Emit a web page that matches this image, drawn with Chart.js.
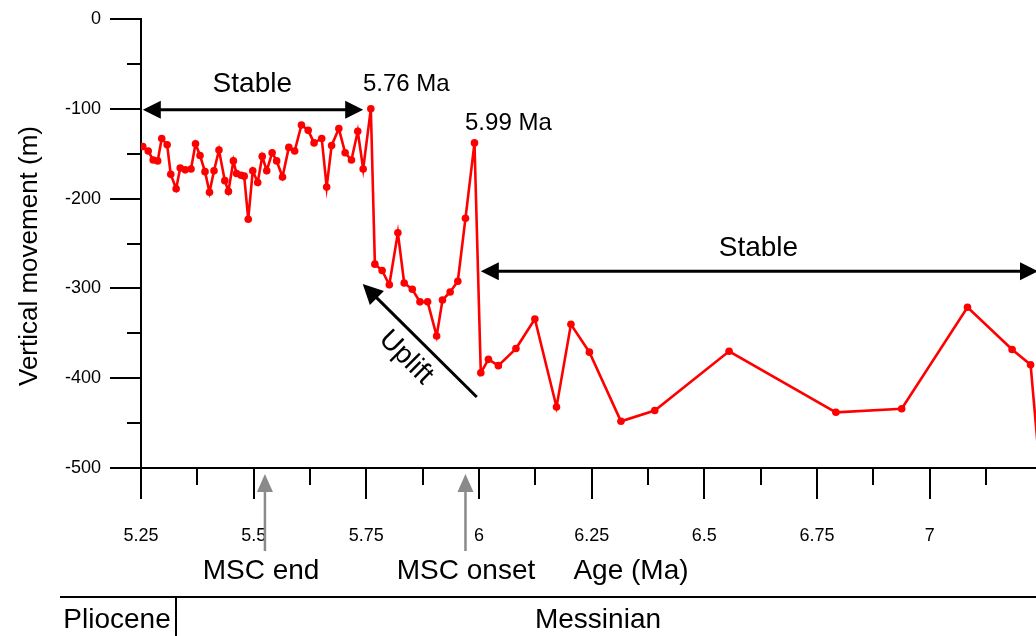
<!DOCTYPE html>
<html>
<head>
<meta charset="utf-8">
<script src="https://cdn.jsdelivr.net/npm/chart.js@4.4.0/dist/chart.umd.min.js"></script>
<style>
  html, body { margin: 0; padding: 0; background: #fff; }
  canvas { display: block; }
</style>
</head>
<body>
<canvas id="chart" width="1036" height="636"></canvas>
<script>
// Age (Ma) of each sample and the vertical movement (m) derived for it
const ages = [
  5.254, 5.266, 5.277, 5.287, 5.296, 5.308, 5.316, 5.328, 5.337, 5.348,
  5.361, 5.371, 5.381, 5.392, 5.402, 5.412, 5.423, 5.436, 5.444, 5.455,
  5.462, 5.472, 5.479, 5.488, 5.498, 5.509, 5.519, 5.529, 5.541, 5.551,
  5.564, 5.578, 5.591, 5.606, 5.621, 5.634, 5.651, 5.662, 5.673, 5.689,
  5.703, 5.717, 5.731, 5.743, 5.76, 5.769, 5.785, 5.801, 5.820, 5.834,
  5.852, 5.869, 5.886, 5.906, 5.919, 5.936, 5.953, 5.970, 5.99, 6.004,
  6.021, 6.043, 6.082, 6.124, 6.172, 6.204, 6.245, 6.315, 6.390, 6.555,
  6.792, 6.938, 7.084, 7.183, 7.224, 7.245
];
const movement = [
  -142, -147, -157, -158, -133, -140, -173, -189, -166, -168,
  -167, -139, -152, -170, -193, -169, -146, -180, -192, -158,
  -172, -174, -175, -223, -169, -182, -153, -169, -149, -158,
  -176, -143, -147, -118, -124, -138, -133, -187, -141, -122,
  -149, -157, -125, -167, -100, -273, -280, -296, -238, -294,
  -301, -315, -315, -353, -313, -304, -292, -222, -138, -394,
  -379, -386, -367, -334, -432, -340, -371, -448, -436, -370,
  -438, -434, -321, -368, -385, -505
];

const xTicks = [5.25, 5.5, 5.75, 6, 6.25, 6.5, 6.75, 7];
const yTicks = [0, -100, -200, -300, -400, -500];
const xMinorStep = 0.125;
const yMinorStep = 50;

const FONT = "'Liberation Sans', Arial, sans-serif";

function arrowHead(ctx, tipX, tipY, fromX, fromY, len, half) {
  const a = Math.atan2(tipY - fromY, tipX - fromX);
  ctx.beginPath();
  ctx.moveTo(tipX, tipY);
  ctx.lineTo(tipX - len * Math.cos(a) + half * Math.sin(a), tipY - len * Math.sin(a) - half * Math.cos(a));
  ctx.lineTo(tipX - len * Math.cos(a) - half * Math.sin(a), tipY - len * Math.sin(a) + half * Math.cos(a));
  ctx.closePath();
  ctx.fill();
}

function arrow(ctx, x1, y1, x2, y2, opts) {
  const { color = '#000', width = 3, len = 18, half = 9, both = false } = opts || {};
  const a = Math.atan2(y2 - y1, x2 - x1);
  ctx.save();
  ctx.strokeStyle = color;
  ctx.fillStyle = color;
  ctx.lineWidth = width;
  ctx.beginPath();
  ctx.moveTo(both ? x1 + (len - 2) * Math.cos(a) : x1, both ? y1 + (len - 2) * Math.sin(a) : y1);
  ctx.lineTo(x2 - (len - 2) * Math.cos(a), y2 - (len - 2) * Math.sin(a));
  ctx.stroke();
  arrowHead(ctx, x2, y2, x1, y1, len, half);
  if (both) arrowHead(ctx, x1, y1, x2, y2, len, half);
  ctx.restore();
}

function text(ctx, str, x, y, size, align, rot) {
  ctx.save();
  ctx.font = size + 'px ' + FONT;
  ctx.fillStyle = '#000';
  ctx.textAlign = align || 'center';
  ctx.textBaseline = 'middle';
  ctx.translate(x, y);
  if (rot) ctx.rotate(rot);
  ctx.fillText(str, 0, 0);
  ctx.restore();
}

// tick marks, arrows, labels and the stage bar under the axis
const annotations = {
  id: 'annotations',
  afterDraw(chart) {
    const ctx = chart.ctx;
    const xs = chart.scales.x;
    const ys = chart.scales.y;
    const area = chart.chartArea;
    const X = v => xs.getPixelForValue(v);
    const Y = v => ys.getPixelForValue(v);

    ctx.save();
    ctx.strokeStyle = '#000';
    ctx.lineWidth = 2;
    ctx.beginPath();
    for (let v = 0; v >= -500; v -= yMinorStep) {
      const major = v % 100 === 0;
      const py = Math.round(Y(v));
      ctx.moveTo(major ? area.left - 31 : area.left - 14, py);
      ctx.lineTo(area.left, py);
    }
    for (let v = xs.min; v <= xs.max + 1e-9; v += xMinorStep) {
      const major = xTicks.some(t => Math.abs(t - v) < 1e-6);
      const px = Math.round(X(v));
      ctx.moveTo(px, area.bottom);
      ctx.lineTo(px, area.bottom + (major ? 31 : 17));
    }
    ctx.stroke();
    ctx.restore();

    // stable interval before the 5.76 Ma jump
    arrow(ctx, X(5.254), Y(-101), X(5.743), Y(-101), { both: true, len: 18, half: 9 });
    text(ctx, 'Stable', X(5.497), Y(-73), 28);
    text(ctx, '5.76 Ma', X(5.7425), Y(-73), 24, 'left');
    text(ctx, '5.99 Ma', X(5.969), Y(-116), 24, 'left');

    // stable interval after 6 Ma
    arrow(ctx, X(6.004), Y(-281), xs.right + 2, Y(-281), { both: true, len: 18, half: 9 });
    text(ctx, 'Stable', X(6.62), Y(-255), 28);

    // uplift
    arrow(ctx, X(5.995), Y(-421), X(5.742), Y(-295), { len: 20, half: 10 });
    text(ctx, 'Uplift', X(5.838), Y(-377), 28, 'center', Math.PI / 4);

    // MSC markers below the axis
    arrow(ctx, X(5.525), 551, X(5.525), 474, { color: '#8a8a8a', width: 2.5, len: 18, half: 8 });
    arrow(ctx, X(5.97), 551, X(5.97), 474, { color: '#8a8a8a', width: 2.5, len: 18, half: 8 });
    text(ctx, 'MSC end', 261, 571, 28);
    text(ctx, 'MSC onset', 466, 571, 28);
    text(ctx, 'Age (Ma)', 631, 571, 28);

    // stage bar
    ctx.save();
    ctx.strokeStyle = '#000';
    ctx.lineWidth = 2;
    ctx.beginPath();
    ctx.moveTo(60, 597);
    ctx.lineTo(chart.width, 597);
    ctx.moveTo(176, 597);
    ctx.lineTo(176, 636);
    ctx.stroke();
    ctx.restore();
    text(ctx, 'Pliocene', 117, 620, 28);
    text(ctx, 'Messinian', 598, 620, 28);

    // axis title, set a little below the axis midpoint
    text(ctx, 'Vertical movement (m)', 30, 256, 26, 'center', -Math.PI / 2);
  }
};

new Chart(document.getElementById('chart').getContext('2d'), {
  type: 'scatter',
  data: {
    datasets: [{
      data: ages.map((a, i) => ({ x: a, y: movement[i] })),
      showLine: true,
      borderColor: '#ff0000',
      backgroundColor: '#ff0000',
      borderWidth: 2.6,
      pointRadius: 3.8,
      pointBorderWidth: 0,
      tension: 0
    }]
  },
  options: {
    responsive: false,
    animation: false,
    layout: { autoPadding: false, padding: { top: 19, right: 0, left: 0, bottom: 0 } },
    plugins: {
      legend: { display: false },
      tooltip: { enabled: false }
    },
    scales: {
      x: {
        type: 'linear',
        min: 5.25,
        max: 7.236,
        afterFit: s => { s.height = 168; s.paddingLeft = 0; s.paddingRight = 0; },
        afterBuildTicks: s => { s.ticks = xTicks.map(v => ({ value: v })); },
        grid: { display: false, drawTicks: false },
        border: { display: true, color: '#000', width: 2 },
        ticks: {
          autoSkip: false,
          maxRotation: 0,
          padding: 57,
          color: '#000',
          font: { family: FONT, size: 18 },
          callback: v => String(v)
        }
      },
      y: {
        min: -500,
        max: 0,
        afterFit: s => { s.width = 141; s.paddingTop = 0; s.paddingBottom = 0; },
        afterBuildTicks: s => { s.ticks = yTicks.map(v => ({ value: v })); },
        grid: { display: false, drawTicks: false },
        border: { display: true, color: '#000', width: 2 },
        ticks: {
          padding: 40,
          color: '#000',
          font: { family: FONT, size: 18 },
          callback: v => String(v)
        }
      }
    }
  },
  plugins: [annotations]
});
</script>
</body>
</html>
